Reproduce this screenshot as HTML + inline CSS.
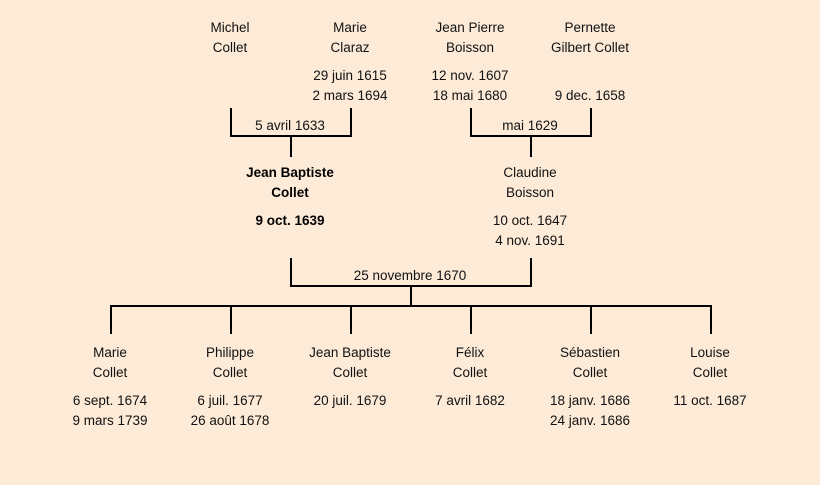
<!DOCTYPE html>
<html lang="fr">
<head>
<meta charset="utf-8">
<title>Généalogie Collet</title>
<style>
html,body{margin:0;padding:0;background:#fdebd8;}
svg{display:block;}
text{font-family:"Liberation Sans",sans-serif;font-size:13.5px;fill:#111;text-anchor:middle;}
.b{font-weight:bold;fill:#000;}
</style>
</head>
<body>
<svg width="820" height="485" viewBox="0 0 820 485" xmlns="http://www.w3.org/2000/svg">
<rect width="820" height="485" fill="#fdebd8"/>
<g fill="none" stroke="#000" stroke-width="2">
<path d="M231 108V136H351V108M291 136V157"/>
<path d="M471 108V136H591V108M531 136V157"/>
<path d="M291 258V286H531V258M411 286V306"/>
<path d="M111 334V306H711V334M231 306V334M351 306V334M471 306V334M591 306V334"/>
</g>
<text x="230" y="32">Michel</text>
<text x="230" y="52">Collet</text>
<text x="350" y="32">Marie</text>
<text x="350" y="52">Claraz</text>
<text x="350" y="80">29 juin 1615</text>
<text x="350" y="100">2 mars 1694</text>
<text x="470" y="32">Jean Pierre</text>
<text x="470" y="52">Boisson</text>
<text x="470" y="80">12 nov. 1607</text>
<text x="470" y="100">18 mai 1680</text>
<text x="590" y="32">Pernette</text>
<text x="590" y="52">Gilbert Collet</text>
<text x="590" y="100">9 dec. 1658</text>
<text x="290" y="130">5 avril 1633</text>
<text x="530" y="130">mai 1629</text>
<text class="b" x="290" y="177">Jean Baptiste</text>
<text class="b" x="290" y="197">Collet</text>
<text class="b" x="290" y="225">9 oct. 1639</text>
<text x="530" y="177">Claudine</text>
<text x="530" y="197">Boisson</text>
<text x="530" y="225">10 oct. 1647</text>
<text x="530" y="245">4 nov. 1691</text>
<text x="410" y="280">25 novembre 1670</text>
<text x="110" y="357">Marie</text>
<text x="110" y="377">Collet</text>
<text x="110" y="405">6 sept. 1674</text>
<text x="110" y="425">9 mars 1739</text>
<text x="230" y="357">Philippe</text>
<text x="230" y="377">Collet</text>
<text x="230" y="405">6 juil. 1677</text>
<text x="230" y="425">26 août 1678</text>
<text x="350" y="357">Jean Baptiste</text>
<text x="350" y="377">Collet</text>
<text x="350" y="405">20 juil. 1679</text>
<text x="470" y="357">Félix</text>
<text x="470" y="377">Collet</text>
<text x="470" y="405">7 avril 1682</text>
<text x="590" y="357">Sébastien</text>
<text x="590" y="377">Collet</text>
<text x="590" y="405">18 janv. 1686</text>
<text x="590" y="425">24 janv. 1686</text>
<text x="710" y="357">Louise</text>
<text x="710" y="377">Collet</text>
<text x="710" y="405">11 oct. 1687</text>
</svg>
</body>
</html>
